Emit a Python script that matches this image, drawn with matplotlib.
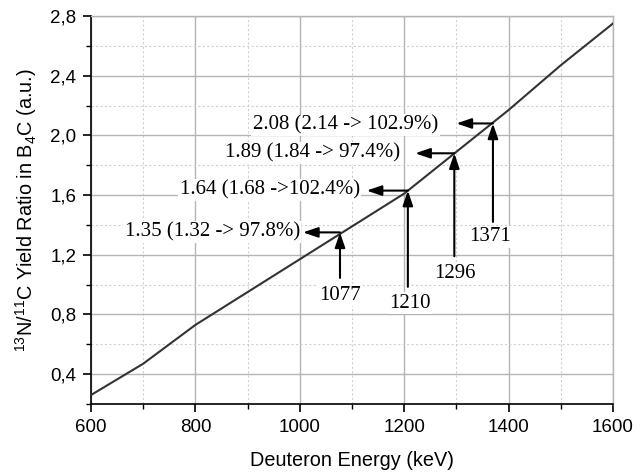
import matplotlib
matplotlib.use("Agg")
import matplotlib.pyplot as plt
from matplotlib.ticker import MultipleLocator, FuncFormatter

# Data
energy = [600, 700, 800, 900, 1000, 1100, 1200, 1300, 1400, 1500, 1600]
ratio = [0.26, 0.47, 0.73, 0.95, 1.17, 1.39, 1.61, 1.89, 2.17, 2.47, 2.75]

mark_energy = [1077, 1207, 1296, 1370]
mark_ratio = [1.35, 1.63, 1.88, 2.08]
mark_labels = ["1077", "1210", "1296", "1371"]
mark_texts = ["1.35 (1.32 -> 97.8%)", "1.64 (1.68 ->102.4%)",
              "1.89 (1.84 -> 97.4%)", "2.08 (2.14 -> 102.9%)"]
arrow_start = [1.045, 0.985, 1.19, 1.42]
label_y = [0.93, 0.875, 1.075, 1.32]
label_x = [1077, 1211, 1297, 1365]
harrow_end = [1006, 1128, 1221, 1300]
text_right = [1000, 1115, 1192, 1265]
text_y = [1.353, 1.634, 1.88, 2.07]

plt.rcParams['mathtext.default'] = 'regular'
fig = plt.figure(figsize=(6.43, 4.72), dpi=100)
ax = fig.add_axes([91/643, 68/472, 522/643, 388/472])

ax.plot(energy, ratio, color='#333333', lw=1.5, zorder=3)

ax.set_xlim(600, 1600)
ax.set_ylim(0.2, 2.8)
ax.xaxis.set_major_locator(MultipleLocator(200))
ax.xaxis.set_minor_locator(MultipleLocator(100))
ax.yaxis.set_major_locator(MultipleLocator(0.4))
ax.yaxis.set_minor_locator(MultipleLocator(0.2))
ax.yaxis.set_major_formatter(FuncFormatter(lambda v, p: f"{v:.1f}".replace('.', ',')))

ax.grid(which='major', color='#b4b4b4', lw=1.0, ls='-', zorder=0)
ax.grid(which='minor', color='#d0d0d0', lw=0.8, ls=(0, (2, 2)), zorder=0)
ax.set_axisbelow(True)

for s in ['top', 'right']:
    ax.spines[s].set_color('#b4b4b4')
    ax.spines[s].set_linewidth(1.0)
for s in ['left', 'bottom']:
    ax.spines[s].set_color('black')
    ax.spines[s].set_linewidth(1.2)

ax.tick_params(which='major', direction='out', length=6, width=1.2, labelsize=13.5,
               top=False, right=False, pad=4.5)
ax.tick_params(which='minor', direction='out', length=3.5, width=1.0,
               top=False, right=False)
for lab in ax.get_xticklabels() + ax.get_yticklabels():
    lab.set_family('Liberation Sans')

ax.set_xlabel("Deuteron Energy (keV)", fontsize=14.3, family='Liberation Sans', labelpad=11)
ax.set_ylabel("$^{13}$N/$^{11}$C Yield Ratio in B$_4$C (a.u.)", fontsize=14.3,
              family='Liberation Sans', labelpad=8)

serif = 'Liberation Serif'
aprops = dict(arrowstyle='-|>,head_length=0.5,head_width=0.17', color='black',
              lw=1.5, shrinkA=0, shrinkB=0, mutation_scale=18)
bbox = dict(facecolor='white', edgecolor='none', pad=1.0)
for i in range(len(mark_energy)):
    ax.annotate("", xy=(mark_energy[i], mark_ratio[i]),
                xytext=(mark_energy[i], arrow_start[i]), arrowprops=aprops, zorder=4)
    ax.annotate("", xy=(harrow_end[i], mark_ratio[i]),
                xytext=(mark_energy[i], mark_ratio[i]), arrowprops=aprops, zorder=4)
    ax.text(label_x[i], label_y[i], mark_labels[i], ha='center', va='center',
            fontsize=15, family=serif, bbox=bbox, zorder=5)
    ax.text(text_right[i], text_y[i], mark_texts[i], ha='right', va='center',
            fontsize=15, family=serif, bbox=bbox, zorder=5)

fig.savefig("out.png", dpi=100)
